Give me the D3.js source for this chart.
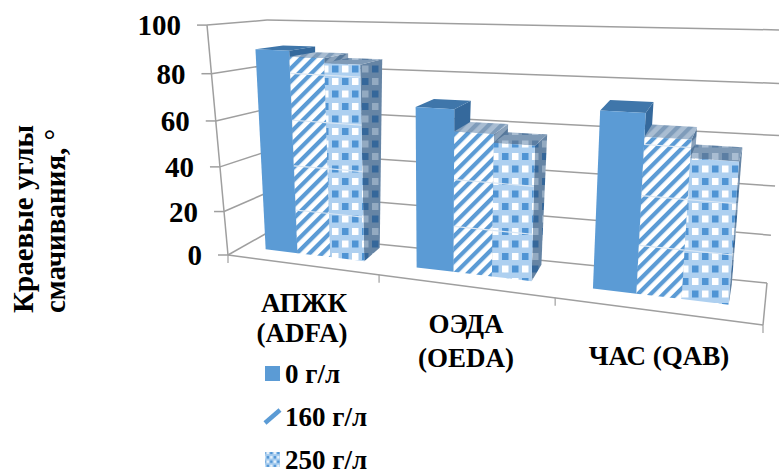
<!DOCTYPE html>
<html>
<head>
<meta charset="utf-8">
<script src="https://cdn.jsdelivr.net/npm/d3@7"></script>
<style>
  html, body { margin: 0; padding: 0; background: #fff; }
  text { font-family: "Liberation Serif", serif; font-weight: bold; fill: #000; }
</style>
</head>
<body>
<svg id="chart" width="779" height="475"></svg>
<script>
const categories = ["АПЖК (ADFA)", "ОЭДА (OEDA)", "ЧАС (QAB)"];
const seriesNames = ["0 г/л", "160 г/л", "250 г/л"];
const values0 = [89.5, 69, 72];
const values160 = [87, 60, 63];
const values250 = [85, 56.5, 56];
const yTicks = [0, 20, 40, 60, 80, 100];
const titleLines = ["Краевые углы", "смачивания, °"];

const seriesValues = [values0, values160, values250];

const svg = d3.select("#chart");
const defs = svg.append("defs");

// corners of the 3d box on screen
const FBL = [228, 255], FBR = [763, 325], BBL = [267, 233], BBR = [767, 283];
const FTL = [207, 25], FTR = [785, 50], BTL = [267, 20], BTR = [788, 30];

const xScale = d3.scaleLinear().domain([0, 3]).range([0, 1]);
const yScale = d3.scaleLinear().domain([0, 100]).range([0, 1]);
const groupScale = d3.scaleBand().domain(d3.range(categories.length)).range([0, 3])
    .paddingInner(0.33).paddingOuter(0.165);
const barScale = d3.scaleBand().domain(d3.range(seriesNames.length)).range([0, groupScale.bandwidth()]);

const barFront = 0.38, barBack = 0.88;

// perspective squeeze along the two axes
const warpX = x => 0.787 * x / (1 - 0.213 * x);
const warpY = y => 0.932 * y / (1 - 0.0676 * y);

function mix(a, b, t) {
    return [a[0] + (b[0] - a[0]) * t, a[1] + (b[1] - a[1]) * t];
}

// u = position along the category axis, d = depth 0..1, v = value
function project(u, d, v) {
    const tx = warpX(xScale(u)), ty = warpY(yScale(v));
    const bottom = mix(mix(FBL, FBR, tx), mix(BBL, BBR, tx), d);
    const top = mix(mix(FTL, FTR, tx), mix(BTL, BTR, tx), d);
    return mix(bottom, top, ty);
}

function stripes(id, a, b) {
    const p = defs.append("pattern").attr("id", id).attr("patternUnits", "userSpaceOnUse")
        .attr("width", 9).attr("height", 9).attr("patternTransform", "rotate(45)");
    p.append("rect").attr("width", 9).attr("height", 9).attr("fill", a);
    p.append("rect").attr("width", 4.2).attr("height", 9).attr("fill", b);
}

function checks(id, base, dark, light, size) {
    const k = size || 1;
    const p = defs.append("pattern").attr("id", id).attr("patternUnits", "userSpaceOnUse")
        .attr("width", 20 * k).attr("height", 25 * k);
    p.append("rect").attr("width", 20 * k).attr("height", 25 * k).attr("fill", base);
    [[2, 3, dark], [12, 3, light], [2, 15.5, light], [12, 15.5, dark]].forEach(c => {
        p.append("rect").attr("x", c[0] * k).attr("y", c[1] * k)
            .attr("width", 6.5 * k).attr("height", 7 * k).attr("fill", c[2]);
    });
}

stripes("hatch", "#ffffff", "#5b9bd5");
stripes("hatchTop", "#a9bdd2", "#7f9cba");
stripes("hatchSide", "#8aa2bb", "#56789b");
checks("check", "#aed0f0", "#4f94d4", "#ffffff");
checks("checkTop", "#7f9ab6", "#5b7ea3", "#a9bdd2");
checks("checkSide", "#6685a5", "#35679a", "#93aac1");
checks("checkLegend", "#a5cbee", "#4f94d4", "#e8f2fb", 0.35);

const fills = [
    { front: "#5b9bd5", top: "#3f76aa", side: "#35699c" },
    { front: "url(#hatch)", top: "url(#hatchTop)", side: "url(#hatchSide)" },
    { front: "url(#check)", top: "url(#checkTop)", side: "url(#checkSide)" }
];

const line = d3.line();
const wallColor = "#9f9f9f";

function wallLine(a, b, w) {
    svg.append("path").attr("d", line([a, b])).attr("fill", "none")
        .attr("stroke", wallColor).attr("stroke-width", w || 1.5);
}

// walls and gridlines
yTicks.forEach(v => {
    const front = project(0, 0, v), back = project(0, 1, v), right = project(3, 1, v);
    wallLine(front, back);
    wallLine(back, right);
    wallLine(front, [front[0] - 10, front[1]]);
    svg.append("text")
        .attr("x", front[0] - 26)
        .attr("y", front[1] + 10)
        .attr("text-anchor", "end")
        .attr("font-size", 29)
        .text(v);
});
wallLine(project(0, 0, 0), project(0, 0, 100));
wallLine(project(0, 0, 0), project(3, 0, 0));
wallLine(project(3, 0, 0), project(3, 1, 0));
d3.range(4).forEach(i => {
    const p = project(i, 0, 0);
    wallLine(p, [p[0], p[1] + 8], 1.2);
});

// bars, left to right
categories.forEach((c, g) => {
    seriesValues.forEach((vals, s) => {
        const u0 = groupScale(g) + barScale(s), u1 = u0 + barScale.bandwidth(), v = vals[g];
        const sideFace = [project(u1, barFront, 0), project(u1, barBack, 0), project(u1, barBack, v), project(u1, barFront, v)];
        const topFace = [project(u0, barFront, v), project(u1, barFront, v), project(u1, barBack, v), project(u0, barBack, v)];
        const frontFace = [project(u0, barFront, 0), project(u1, barFront, 0), project(u1, barFront, v), project(u0, barFront, v)];
        svg.append("path").attr("d", line(sideFace) + "Z").attr("fill", fills[s].side);
        svg.append("path").attr("d", line(topFace) + "Z").attr("fill", fills[s].top);
        svg.append("path").attr("d", line(frontFace) + "Z").attr("fill", fills[s].front);
        if (s > 0) {
            yTicks.filter(t => t > 0 && t < v).forEach(t => {
                svg.append("path").attr("d", line([project(u0, barFront, t), project(u1, barFront, t)]))
                    .attr("stroke", s === 1 ? "#dfe9f3" : "#d7e6f5").attr("stroke-width", 1.2).attr("fill", "none");
            });
        }
    });
});

// category labels
const catLabels = [
    [["АПЖК", 304, 312], ["(ADFA)", 302, 342]],
    [["ОЭДА", 466, 333], ["(OEDA)", 466, 367]],
    [["ЧАС (QAB)", 659, 365]]
];
catLabels.forEach(rows => rows.forEach(r => {
    svg.append("text").attr("x", r[1]).attr("y", r[2]).attr("text-anchor", "middle")
        .attr("font-size", 27).text(r[0]);
}));

// axis title
[[33, 313], [65, 313]].forEach((pos, i) => {
    svg.append("text").attr("transform", `translate(${pos[0]},${pos[1]}) rotate(-90)`)
        .attr("font-size", 29).text(titleLines[i]);
});

// legend
const legendY = d3.scalePoint().domain(seriesNames).range([383, 469]);
seriesNames.forEach((name, i) => {
    const y = legendY(name), x0 = 265, y0 = y - 17;
    if (i === 1) {
        svg.append("rect").attr("x", x0).attr("y", y0).attr("width", 15).attr("height", 15).attr("fill", "#fff");
        svg.append("path").attr("d", line([[x0, y0 + 14], [x0 + 15, y0 + 1]]))
            .attr("stroke", "#5b9bd5").attr("stroke-width", 4.5).attr("fill", "none");
    } else {
        svg.append("rect").attr("x", x0).attr("y", y0).attr("width", 15).attr("height", 15)
            .attr("fill", i === 2 ? "url(#checkLegend)" : fills[i].front);
    }
    svg.append("text").attr("x", 285).attr("y", y).attr("font-size", 27).text(name);
});
</script>
</body>
</html>
